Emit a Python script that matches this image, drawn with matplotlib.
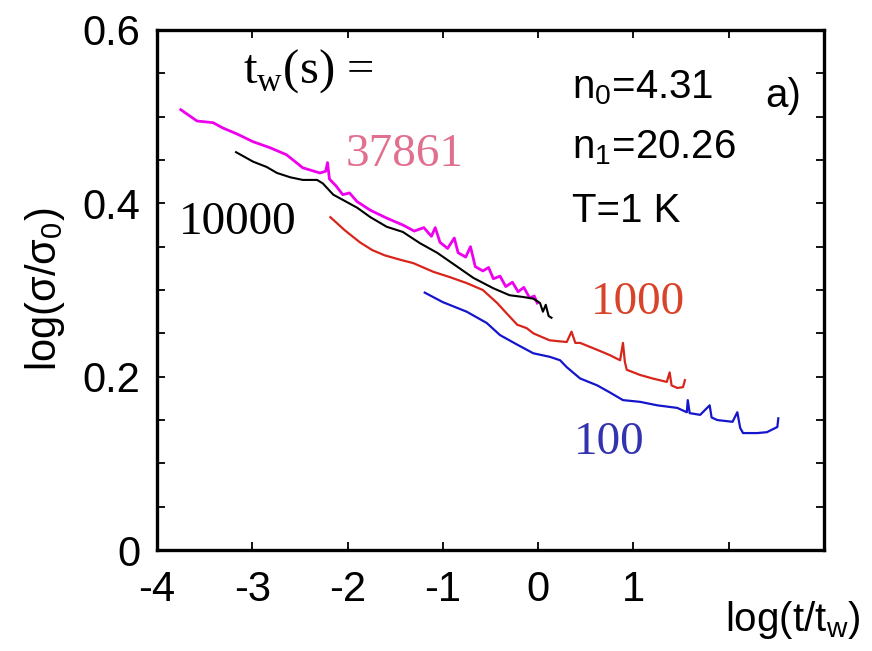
import numpy as np
import matplotlib
matplotlib.use("Agg")
import matplotlib.pyplot as plt
from matplotlib.ticker import MultipleLocator

# curves: log(t/tw), log(sigma/sigma0)
x_37861 = [-3.75, -3.58, -3.41, -3.31, -3.16, -2.99, -2.81, -2.64, -2.47, -2.29,
           -2.23, -2.21, -2.19, -2.12, -2.05, -1.98, -1.90, -1.76, -1.59, -1.42,
           -1.30, -1.20, -1.12, -1.08, -1.03, -0.95, -0.88, -0.84, -0.76, -0.71,
           -0.66, -0.58, -0.52, -0.47, -0.40, -0.34, -0.27, -0.21, -0.15, -0.09,
           -0.04, -0.01]
y_37861 = [0.508, 0.495, 0.493, 0.487, 0.480, 0.471, 0.464, 0.456, 0.441, 0.435,
           0.437, 0.447, 0.428, 0.420, 0.410, 0.412, 0.402, 0.392, 0.383, 0.375,
           0.368, 0.372, 0.362, 0.372, 0.355, 0.348, 0.360, 0.343, 0.338, 0.350,
           0.327, 0.322, 0.326, 0.313, 0.316, 0.304, 0.309, 0.298, 0.303, 0.291,
           0.293, 0.285]

x_10000 = [-3.17, -2.99, -2.85, -2.74, -2.60, -2.47, -2.32, -2.26, -2.15, -2.05,
           -1.90, -1.76, -1.59, -1.42, -1.24, -1.06, -0.85, -0.68, -0.47, -0.30,
           -0.16, -0.05, 0.02, 0.05, 0.08, 0.11, 0.14]
y_10000 = [0.459, 0.448, 0.442, 0.435, 0.430, 0.427, 0.427, 0.423, 0.410, 0.404,
           0.395, 0.384, 0.373, 0.367, 0.354, 0.343, 0.327, 0.314, 0.302, 0.294,
           0.292, 0.290, 0.285, 0.275, 0.283, 0.270, 0.268]

x_1000 = [-2.18, -2.03, -1.87, -1.74, -1.61, -1.45, -1.31, -1.10, -0.93, -0.75,
          -0.58, -0.43, -0.33, -0.22, -0.12, -0.05, 0.12, 0.30, 0.35, 0.39,
          0.44, 0.62, 0.75, 0.86, 0.89, 0.91, 0.93, 1.07, 1.20, 1.35,
          1.38, 1.40, 1.46, 1.52, 1.54]
y_1000 = [0.384, 0.369, 0.355, 0.346, 0.340, 0.335, 0.331, 0.321, 0.315, 0.308,
          0.300, 0.285, 0.273, 0.260, 0.256, 0.250, 0.242, 0.240, 0.252, 0.239,
          0.239, 0.231, 0.225, 0.219, 0.239, 0.217, 0.208, 0.202, 0.198, 0.194,
          0.205, 0.190, 0.187, 0.188, 0.196]

x_100 = [-1.19, -1.00, -0.75, -0.54, -0.40, -0.22, -0.05, 0.12, 0.23, 0.30,
         0.44, 0.62, 0.75, 0.89, 1.07, 1.25, 1.46, 1.56, 1.57, 1.59,
         1.70, 1.80, 1.82, 1.88, 2.04, 2.09, 2.12, 2.15, 2.30, 2.40,
         2.51, 2.52]
y_100 = [0.297, 0.286, 0.275, 0.262, 0.248, 0.237, 0.227, 0.223, 0.219, 0.211,
         0.198, 0.190, 0.182, 0.173, 0.171, 0.167, 0.164, 0.159, 0.173, 0.158,
         0.156, 0.167, 0.153, 0.150, 0.148, 0.159, 0.141, 0.135, 0.135, 0.136,
         0.142, 0.152]

xtick_vals = [-4, -3, -2, -1, 0, 1, 2]
xtick_text = ["-4", "-3", "-2", "-1", "0", "1", ""]
ytick_vals = [0, 0.2, 0.4, 0.6]
ytick_text = ["0", "0.2", "0.4", "0.6"]

sans = "Liberation Sans"
serif = "Liberation Serif"

fig = plt.figure(figsize=(8.72, 6.51), dpi=100)
ax = fig.add_axes([0.180, 0.155, 0.765, 0.799])

ax.plot(x_37861, y_37861, color="#ee00ee", lw=2.0)
ax.plot(x_10000, y_10000, color="black", lw=1.5)
ax.plot(x_1000, y_1000, color="#d8251c", lw=1.6)
ax.plot(x_100, y_100, color="#1515cc", lw=1.6)

ax.set_xlim(-4, 3)
ax.set_ylim(0, 0.6)
ax.set_xticks(xtick_vals)
ax.set_xticklabels(xtick_text, fontfamily=sans, fontsize=30)
ax.set_yticks(ytick_vals)
ax.set_yticklabels(ytick_text, fontfamily=sans, fontsize=30)
ax.yaxis.set_minor_locator(MultipleLocator(0.05))
ax.tick_params(which="both", direction="in", top=True, right=True,
               length=6, width=1.3)
ax.tick_params(axis="x", pad=14)
ax.tick_params(axis="y", pad=12)
for s in ax.spines.values():
    s.set_linewidth(2.4)

# labels
fig.text(0.052, 0.555, "log(σ/σ$_\\mathregular{0}$)", rotation=90, ha="center",
         va="center", fontfamily=sans, fontsize=30)
ax.text(1.96, -0.056, r"log(t/t$_\mathregular{w}$)", ha="left", va="top",
        fontfamily=sans, fontsize=29, clip_on=False)

# annotations
ax.text(-3.10, 0.552, r"t$_\mathregular{w}$(s) =", ha="left", va="center",
        fontfamily=serif, fontsize=35)
ax.text(-2.02, 0.456, "37861", ha="left", va="center", fontfamily=serif,
        fontsize=34, color="#e0708e")
ax.text(-3.77, 0.378, "10000", ha="left", va="center", fontfamily=serif,
        fontsize=34, color="black")
ax.text(0.55, 0.285, "1000", ha="left", va="center", fontfamily=serif,
        fontsize=34, color="#d8442a")
ax.text(0.38, 0.124, "100", ha="left", va="center", fontfamily=serif,
        fontsize=34, color="#3333b0")

ax.text(0.35, 0.533, r"n$_\mathregular{0}$=4.31", ha="left", va="center",
        fontfamily=sans, fontsize=29)
ax.text(0.35, 0.464, r"n$_\mathregular{1}$=20.26", ha="left", va="center",
        fontfamily=sans, fontsize=29)
ax.text(0.35, 0.391, "T=1 K", ha="left", va="center", fontfamily=sans,
        fontsize=29)
ax.text(2.38, 0.524, "a)", ha="left", va="center", fontfamily=sans,
        fontsize=29)

fig.savefig("out.png", dpi=100)
